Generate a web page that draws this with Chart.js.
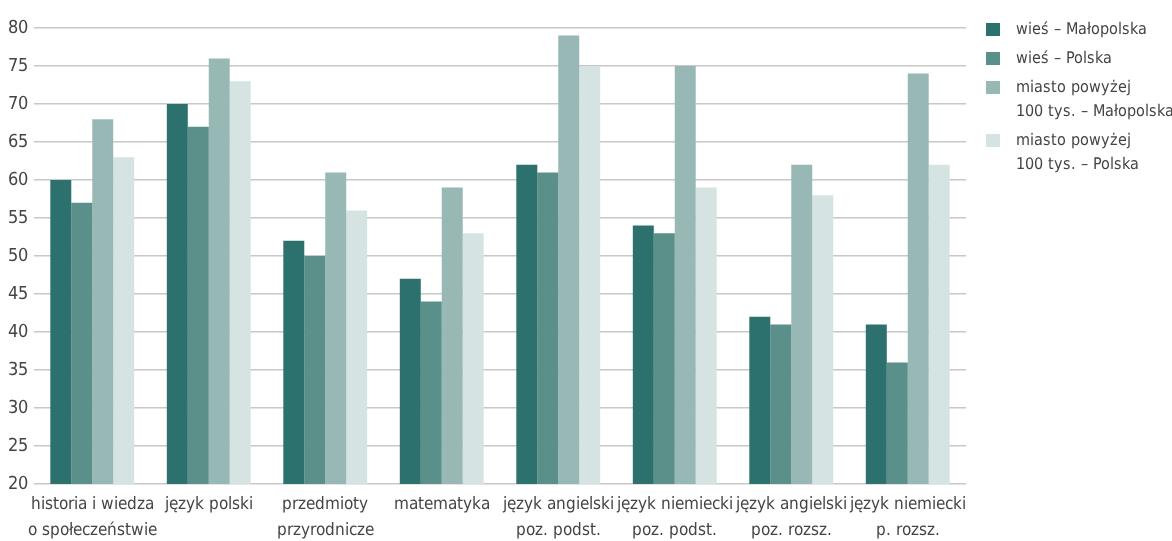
<!DOCTYPE html>
<html>
<head>
<meta charset="utf-8">
<script src="https://cdn.jsdelivr.net/npm/chart.js@4"></script>
<style>
  @font-face {
    font-family: 'Cond';
    src: local('Liberation Sans Narrow'), local('LiberationSansNarrow-Regular'),
         local('DejaVu Sans Condensed'), local('DejaVuSansCondensed');
  }
  body { margin: 0; background: #fff; }
  #wrap { position: relative; width: 1172px; height: 541px; }
  #legend {
    position: absolute; left: 986px; top: 17px;
    font-family: 'Cond', "DejaVu Sans", sans-serif;
    font-size: 16px; color: #444; line-height: 24px; white-space: nowrap;
  }
  .item { position: relative; padding-left: 30px; margin-bottom: 5px; }
  .sw { position: absolute; left: 0; top: 6px; width: 14px; height: 13px; }
</style>
</head>
<body>
<div id="wrap">
  <canvas id="chart" width="1172" height="541"></canvas>
  <div id="legend"></div>
</div>
<script>
const categories = [
  ['historia i wiedza', 'o społeczeństwie'],
  'język polski',
  ['przedmioty', 'przyrodnicze'],
  'matematyka',
  ['język angielski', 'poz. podst.'],
  ['język niemiecki', 'poz. podst.'],
  ['język angielski', 'poz. rozsz.'],
  ['język niemiecki', 'p. rozsz.']
];
const seriesNames = [
  'wieś – Małopolska',
  'wieś – Polska',
  'miasto powyżej\n100 tys. – Małopolska',
  'miasto powyżej\n100 tys.  – Polska'
];
const wiesMalopolska = [60, 70, 52, 47, 62, 54, 42, 41];
const wiesPolska = [57, 67, 50, 44, 61, 53, 41, 36];
const miastoMalopolska = [68, 76, 61, 59, 79, 75, 62, 74];
const miastoPolska = [63, 73, 56, 53, 75, 59, 58, 62];
const colors = ['#2c716d', '#5a8f8a', '#98b8b6', '#d5e3e2'];

const font = "'Cond', 'DejaVu Sans', sans-serif";
const values = [wiesMalopolska, wiesPolska, miastoMalopolska, miastoPolska];

function draw() {
  new Chart(document.getElementById('chart'), {
    type: 'bar',
    data: {
      labels: categories,
      datasets: values.map((v, i) => ({
        label: seriesNames[i],
        data: v,
        backgroundColor: colors[i],
        categoryPercentage: 0.72,
        barPercentage: 1.0
      }))
    },
    options: {
      responsive: false,
      animation: false,
      layout: { padding: { top: 28, right: 206, left: 0, bottom: 0 } },
      plugins: { legend: { display: false }, tooltip: { enabled: false } },
      scales: {
        x: {
          grid: { display: false },
          border: { display: false },
          afterFit: (s) => { s.height = 57; },
          ticks: { color: '#444', font: { family: font, size: 17, lineHeight: 1.5 }, padding: 0, maxRotation: 0, autoSkip: false }
        },
        y: {
          min: 20, max: 80,
          grid: { color: '#c8c8c8', lineWidth: 1.5, drawTicks: false },
          border: { display: false },
          afterFit: (s) => { s.width = 34; },
          ticks: { stepSize: 5, color: '#444', font: { family: font, size: 18 }, padding: 6 }
        }
      }
    }
  });
}

// html legend, multi-line entries
const legend = document.getElementById('legend');
seriesNames.forEach((name, i) => {
  const item = document.createElement('div');
  item.className = 'item';
  item.innerHTML = '<span class="sw" style="background:' + colors[i] + '"></span>' +
    name.split('\n').join('<br>');
  legend.appendChild(item);
});

document.fonts.load("17px 'Cond'").then(draw, draw);
</script>
</body>
</html>
